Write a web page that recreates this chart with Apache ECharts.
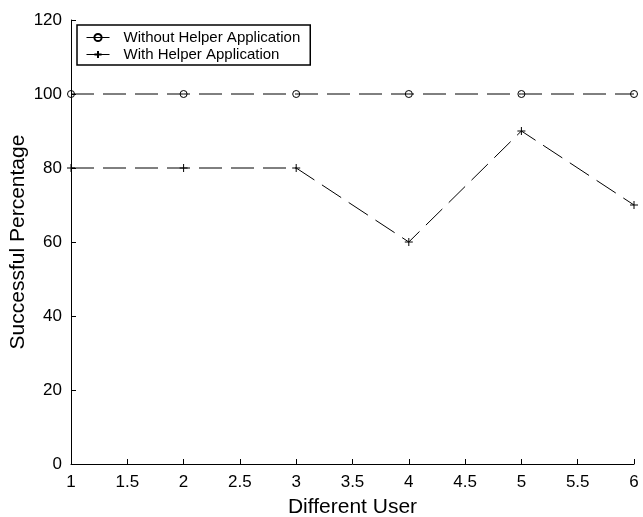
<!DOCTYPE html>
<html>
<head>
<meta charset="utf-8">
<script src="https://cdn.jsdelivr.net/npm/echarts@6/dist/echarts.min.js"></script>
<style>
html,body{margin:0;padding:0;background:#fff;}
#c{width:643px;height:517px;}
</style>
</head>
<body>
<div id="c"></div>
<script>
var users = [1, 2, 3, 4, 5, 6];
var withoutHelper = [100, 100, 100, 100, 100, 100];
var withHelper = [80, 80, 80, 60, 90, 70];
var seriesNames = ['Without Helper Application', 'With Helper Application'];
var xTitle = 'Different User';
var yTitle = 'Successful Percentage';

function pairs(xs, ys) { return xs.map(function (x, i) { return [x, ys[i]]; }); }

var FONT = '"Liberation Sans", Arial, Helvetica, sans-serif';
var chart = echarts.init(document.getElementById('c'), null, {renderer: 'canvas'});
chart.setOption({
  backgroundColor: '#fff',
  animation: false,
  textStyle: {fontFamily: FONT, color: '#000'},
  grid: {left: 71, right: 9, top: 20, bottom: 53, containLabel: false, outerBoundsMode: 'none'},
  legend: {
    orient: 'vertical',
    left: 77, top: 25,
    padding: [5, 10, 3, 9],
    itemWidth: 23, itemHeight: 9, itemGap: 2,
    borderColor: '#000', borderWidth: 1.5,
    backgroundColor: '#fff',
    textStyle: {fontFamily: FONT, fontSize: 15, color: '#000', padding: [0, 0, 0, 9]},
    lineStyle: {type: 'solid', width: 1, color: '#000'},
    data: seriesNames
  },
  xAxis: {
    type: 'value', min: 1, max: 6, interval: 0.5,
    name: xTitle, nameLocation: 'middle', nameGap: 33, nameMoveOverlap: false,
    nameTextStyle: {fontFamily: FONT, fontSize: 21, color: '#000'},
    axisLine: {lineStyle: {color: '#000', width: 1}},
    axisTick: {inside: true, length: 5, lineStyle: {color: '#000'}},
    axisLabel: {fontFamily: FONT, fontSize: 17, color: '#000', margin: 10},
    splitLine: {show: false}
  },
  yAxis: {
    type: 'value', min: 0, max: 120, interval: 20,
    name: yTitle, nameLocation: 'middle', nameGap: 42, nameMoveOverlap: false,
    nameTextStyle: {fontFamily: FONT, fontSize: 21, color: '#000'},
    axisLine: {show: true, lineStyle: {color: '#000', width: 1}},
    axisTick: {show: true, inside: true, length: 5, lineStyle: {color: '#000'}},
    axisLabel: {fontFamily: FONT, fontSize: 17, color: '#000', margin: 9},
    splitLine: {show: false}
  },
  series: [
    {
      name: seriesNames[0], type: 'line', data: pairs(users, withoutHelper),
      symbol: 'circle', symbolSize: 7, showAllSymbol: true, clip: false,
      lineStyle: {color: '#000', width: 1, type: [23, 9]},
      itemStyle: {color: 'rgba(0,0,0,0)', borderColor: '#000', borderWidth: 1},
      emphasis: {disabled: true}
    },
    {
      name: seriesNames[1], type: 'line', data: pairs(users, withHelper),
      symbol: 'path://M0,5L10,5M5,0L5,10', symbolSize: 8, showAllSymbol: true, clip: false,
      lineStyle: {color: '#000', width: 1, type: [23, 9]},
      itemStyle: {color: 'rgba(0,0,0,0)', borderColor: '#000', borderWidth: 1},
      emphasis: {disabled: true}
    }
  ]
});
</script>
</body>
</html>
